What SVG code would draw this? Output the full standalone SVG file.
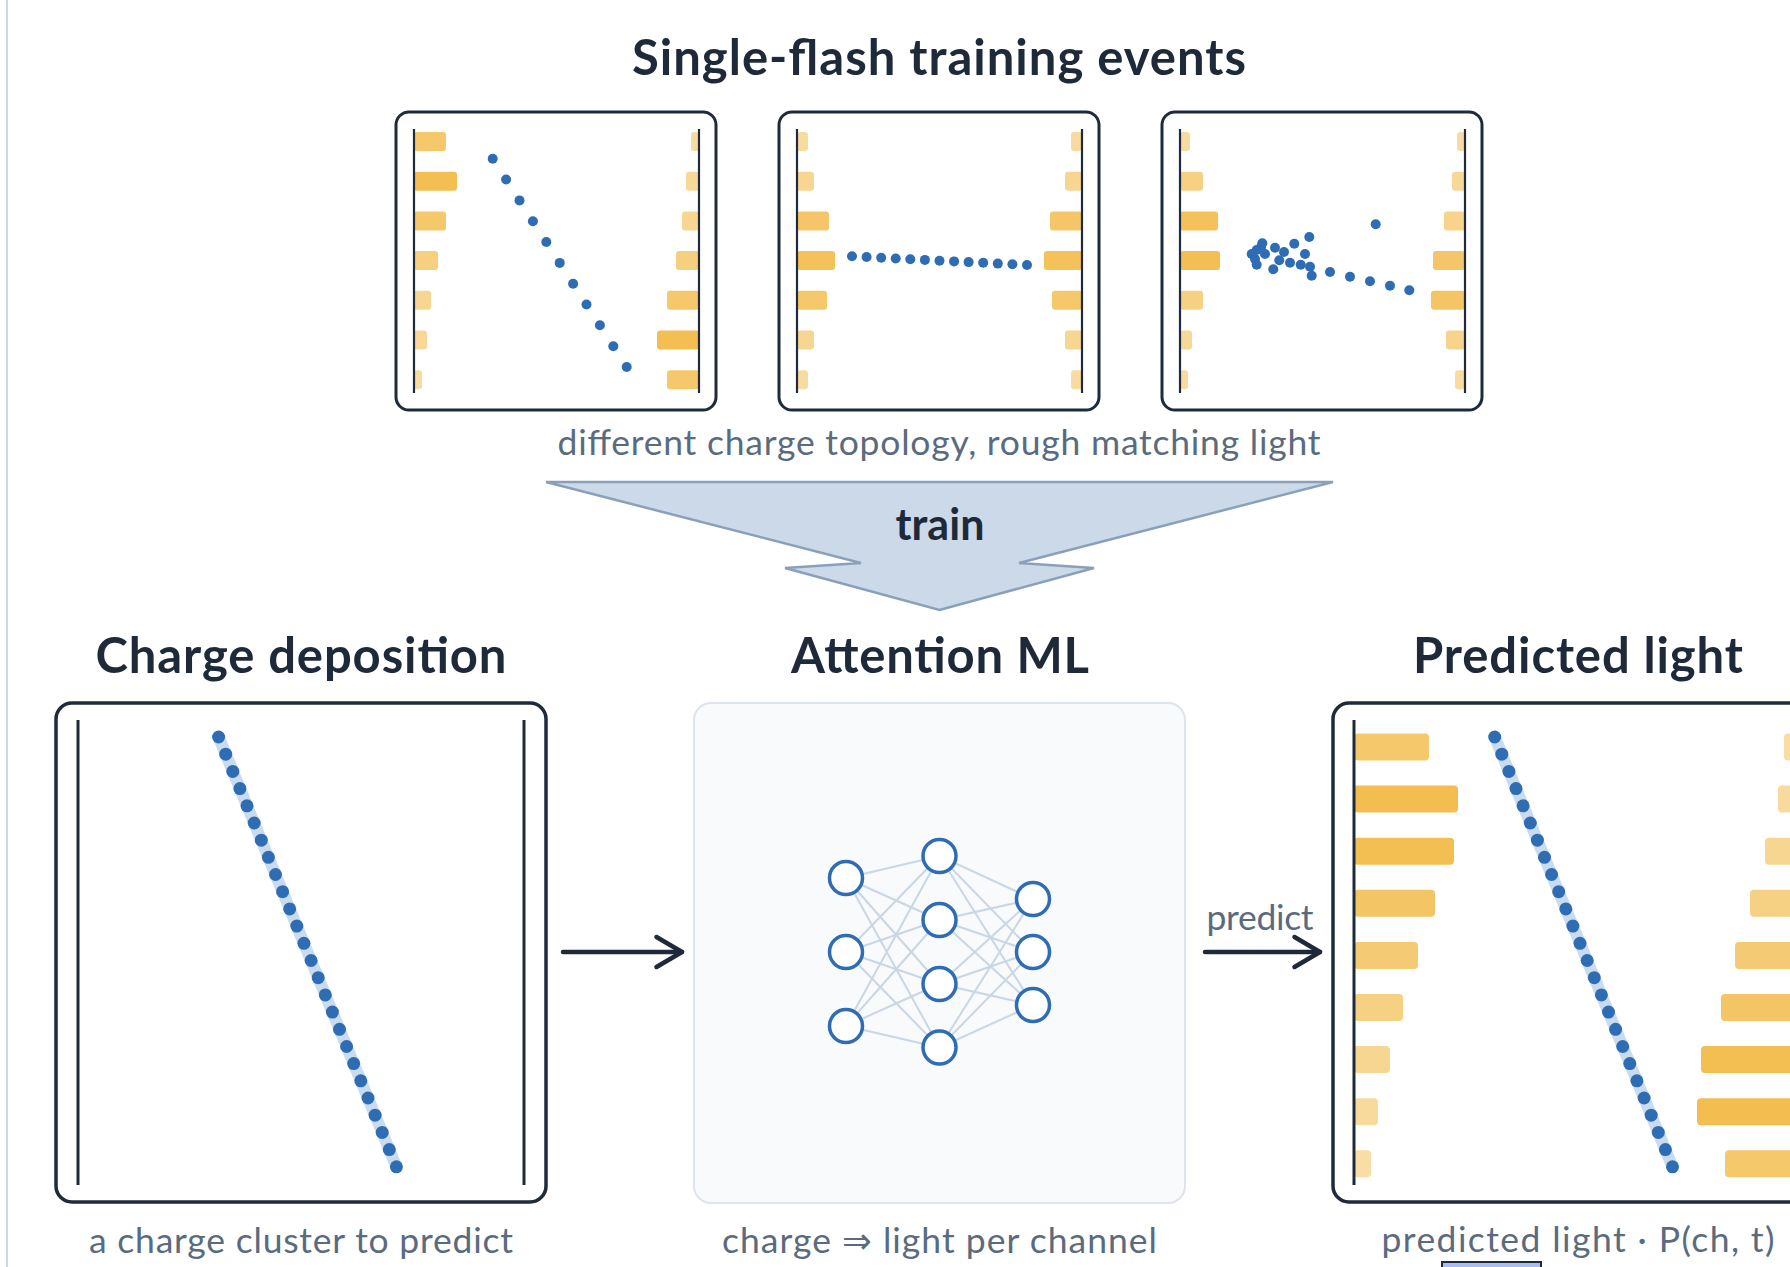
<svg xmlns="http://www.w3.org/2000/svg" xmlns:xlink="http://www.w3.org/1999/xlink" width="1790" height="1267" viewBox="0 0 1790 1267">
<style>
.title{font-family:Lato,"Liberation Sans",sans-serif;font-weight:700;font-size:49px;fill:#1e2a3a;text-anchor:middle}
.cap{font-family:Lato,"Liberation Sans","DejaVu Sans",sans-serif;font-size:35.5px;fill:#5a6b7f;text-anchor:middle}
.frame{fill:#ffffff;stroke:#1f2b3b;stroke-width:3}
.bigframe{fill:#ffffff;stroke:#1f2b3b;stroke-width:3.5}
.wall{stroke:#1f2b3b;stroke-width:2.2}
.bigwall{stroke:#1f2b3b;stroke-width:3}
.bar{fill:#f2b843}
.dot{fill:#2e6db4}
.arrow{fill:none;stroke:#1e2a3a;stroke-width:4.5;stroke-linecap:round}
.syn{stroke:#c9d6e5;stroke-width:2}
.neuron{fill:#ffffff;stroke:#2e6db4;stroke-width:3.5}
</style>
<defs>
<marker id="chev" markerUnits="userSpaceOnUse" markerWidth="40" markerHeight="40" viewBox="-32 -20 40 40" refX="0" refY="0" orient="auto">
<path d="M-25.5,-15 L0,0 L-25.5,15" fill="none" stroke="#1e2a3a" stroke-width="4.5" stroke-linecap="round" stroke-linejoin="round"/>
</marker>
<g id="track">
<line x1="218.6" y1="737" x2="396.4" y2="1166.8" stroke="#c9dbef" stroke-width="12" stroke-linecap="round"/>
<g class="dot">
<circle cx="218.6" cy="737.0" r="6.5"/><circle cx="225.7" cy="754.2" r="6.5"/><circle cx="232.8" cy="771.4" r="6.5"/><circle cx="239.9" cy="788.6" r="6.5"/><circle cx="247.0" cy="805.8" r="6.5"/><circle cx="254.2" cy="823.0" r="6.5"/><circle cx="261.3" cy="840.2" r="6.5"/><circle cx="268.4" cy="857.3" r="6.5"/><circle cx="275.5" cy="874.5" r="6.5"/><circle cx="282.6" cy="891.7" r="6.5"/><circle cx="289.7" cy="908.9" r="6.5"/><circle cx="296.8" cy="926.1" r="6.5"/><circle cx="303.9" cy="943.3" r="6.5"/><circle cx="311.1" cy="960.5" r="6.5"/><circle cx="318.2" cy="977.7" r="6.5"/><circle cx="325.3" cy="994.9" r="6.5"/><circle cx="332.4" cy="1012.1" r="6.5"/><circle cx="339.5" cy="1029.3" r="6.5"/><circle cx="346.6" cy="1046.5" r="6.5"/><circle cx="353.7" cy="1063.6" r="6.5"/><circle cx="360.8" cy="1080.8" r="6.5"/><circle cx="368.0" cy="1098.0" r="6.5"/><circle cx="375.1" cy="1115.2" r="6.5"/><circle cx="382.2" cy="1132.4" r="6.5"/><circle cx="389.3" cy="1149.6" r="6.5"/><circle cx="396.4" cy="1166.8" r="6.5"/>
</g>
</g>
</defs>

<rect x="0" y="0" width="1790" height="1267" fill="#ffffff"/>
<line x1="7" y1="0" x2="7" y2="1267" stroke="#cdd8e5" stroke-width="2"/>

<g id="training-title">
<text class="title" x="939" y="75" textLength="614">Single-flash training events</text>
</g>

<g id="event-1">
<rect class="frame" x="396" y="112" width="320" height="298" rx="13"/>
<g class="bar">
<rect x="414" y="132" width="32" height="19" rx="3" opacity="0.78"/>
<rect x="414" y="171.7" width="43" height="19" rx="3" opacity="0.92"/>
<rect x="414" y="211.4" width="32" height="19" rx="3" opacity="0.78"/>
<rect x="414" y="251.1" width="24" height="19" rx="3" opacity="0.68"/>
<rect x="414" y="290.8" width="17" height="19" rx="3" opacity="0.58"/>
<rect x="414" y="330.5" width="13" height="19" rx="3" opacity="0.55"/>
<rect x="414" y="370.2" width="8" height="19" rx="3" opacity="0.5"/>
<rect x="691" y="132" width="8" height="19" rx="3" opacity="0.5"/>
<rect x="686" y="171.7" width="13" height="19" rx="3" opacity="0.55"/>
<rect x="682" y="211.4" width="17" height="19" rx="3" opacity="0.58"/>
<rect x="676" y="251.1" width="23" height="19" rx="3" opacity="0.68"/>
<rect x="667" y="290.8" width="32" height="19" rx="3" opacity="0.78"/>
<rect x="657" y="330.5" width="42" height="19" rx="3" opacity="0.92"/>
<rect x="667" y="370.2" width="32" height="19" rx="3" opacity="0.78"/>
</g>
<line class="wall" x1="414" y1="129" x2="414" y2="393"/>
<line class="wall" x1="699" y1="129" x2="699" y2="393"/>
<g class="dot">
<circle cx="492.7" cy="158.7" r="5"/><circle cx="506.1" cy="179.5" r="5"/><circle cx="519.5" cy="200.4" r="5"/><circle cx="532.9" cy="221.2" r="5"/><circle cx="546.3" cy="242.0" r="5"/><circle cx="559.7" cy="262.9" r="5"/><circle cx="573.1" cy="283.7" r="5"/><circle cx="586.5" cy="304.5" r="5"/><circle cx="599.9" cy="325.3" r="5"/><circle cx="613.3" cy="346.2" r="5"/><circle cx="626.7" cy="367.0" r="5"/>
</g>
</g>

<g id="event-2">
<rect class="frame" x="779" y="112" width="320" height="298" rx="13"/>
<g class="bar">
<rect x="797" y="132" width="11" height="19" rx="3" opacity="0.5"/>
<rect x="797" y="171.7" width="17" height="19" rx="3" opacity="0.58"/>
<rect x="797" y="211.4" width="32" height="19" rx="3" opacity="0.8"/>
<rect x="797" y="251.1" width="38" height="19" rx="3" opacity="0.88"/>
<rect x="797" y="290.8" width="30" height="19" rx="3" opacity="0.78"/>
<rect x="797" y="330.5" width="17" height="19" rx="3" opacity="0.58"/>
<rect x="797" y="370.2" width="11" height="19" rx="3" opacity="0.5"/>
<rect x="1071" y="132" width="11" height="19" rx="3" opacity="0.5"/>
<rect x="1065" y="171.7" width="17" height="19" rx="3" opacity="0.58"/>
<rect x="1050" y="211.4" width="32" height="19" rx="3" opacity="0.8"/>
<rect x="1044" y="251.1" width="38" height="19" rx="3" opacity="0.88"/>
<rect x="1052" y="290.8" width="30" height="19" rx="3" opacity="0.78"/>
<rect x="1065" y="330.5" width="17" height="19" rx="3" opacity="0.58"/>
<rect x="1071" y="370.2" width="11" height="19" rx="3" opacity="0.5"/>
</g>
<line class="wall" x1="797" y1="129" x2="797" y2="393"/>
<line class="wall" x1="1082" y1="129" x2="1082" y2="393"/>
<g class="dot">
<circle cx="852.0" cy="256.3" r="5"/><circle cx="866.6" cy="257.0" r="5"/><circle cx="881.2" cy="257.8" r="5"/><circle cx="895.7" cy="258.5" r="5"/><circle cx="910.3" cy="259.2" r="5"/><circle cx="924.9" cy="259.9" r="5"/><circle cx="939.5" cy="260.7" r="5"/><circle cx="954.1" cy="261.4" r="5"/><circle cx="968.6" cy="262.1" r="5"/><circle cx="983.2" cy="262.8" r="5"/><circle cx="997.8" cy="263.6" r="5"/><circle cx="1012.4" cy="264.3" r="5"/><circle cx="1027.0" cy="265.0" r="5"/>
</g>
</g>

<g id="event-3">
<rect class="frame" x="1162" y="112" width="320" height="298" rx="13"/>
<g class="bar">
<rect x="1180" y="132" width="10" height="19" rx="3" opacity="0.5"/>
<rect x="1180" y="171.7" width="23" height="19" rx="3" opacity="0.66"/>
<rect x="1180" y="211.4" width="38" height="19" rx="3" opacity="0.88"/>
<rect x="1180" y="251.1" width="40" height="19" rx="3" opacity="0.9"/>
<rect x="1180" y="290.8" width="23" height="19" rx="3" opacity="0.66"/>
<rect x="1180" y="330.5" width="12" height="19" rx="3" opacity="0.55"/>
<rect x="1180" y="370.2" width="8" height="19" rx="3" opacity="0.5"/>
<rect x="1457" y="132" width="8" height="19" rx="3" opacity="0.5"/>
<rect x="1452" y="171.7" width="13" height="19" rx="3" opacity="0.55"/>
<rect x="1444" y="211.4" width="21" height="19" rx="3" opacity="0.62"/>
<rect x="1433" y="251.1" width="32" height="19" rx="3" opacity="0.8"/>
<rect x="1431" y="290.8" width="34" height="19" rx="3" opacity="0.82"/>
<rect x="1446" y="330.5" width="19" height="19" rx="3" opacity="0.62"/>
<rect x="1455" y="370.2" width="10" height="19" rx="3" opacity="0.5"/>
</g>
<line class="wall" x1="1180" y1="129" x2="1180" y2="393"/>
<line class="wall" x1="1465" y1="129" x2="1465" y2="393"/>
<g class="dot">
<circle cx="1375.7" cy="224.3" r="5"/><circle cx="1309.3" cy="237" r="5"/><circle cx="1262.3" cy="243.3" r="5"/><circle cx="1275" cy="247.7" r="5"/><circle cx="1294.3" cy="243.7" r="5"/><circle cx="1284" cy="252" r="5"/><circle cx="1305" cy="254" r="5"/><circle cx="1251.7" cy="254" r="5"/><circle cx="1265" cy="254" r="5"/><circle cx="1256.7" cy="250" r="5"/><circle cx="1279.3" cy="260.3" r="5"/><circle cx="1290" cy="262.7" r="5"/><circle cx="1300.7" cy="264.7" r="5"/><circle cx="1310" cy="266.7" r="5"/><circle cx="1256.7" cy="264.7" r="5"/><circle cx="1273.3" cy="269.3" r="5"/><circle cx="1311.7" cy="275.7" r="5"/><circle cx="1330" cy="272" r="5"/><circle cx="1350" cy="276.7" r="5"/><circle cx="1370" cy="281.3" r="5"/><circle cx="1390" cy="285.7" r="5"/><circle cx="1409.3" cy="290.3" r="5"/><circle cx="1261" cy="247.3" r="5"/><circle cx="1255" cy="259" r="5"/>
</g>
</g>

<g id="training-caption">
<text class="cap" x="939" y="455" textLength="763">different charge topology, rough matching light</text>
</g>

<g id="connectors">
<g id="train-arrow">
<polygon points="546,482 1333,482 1019,563 1094,568 939.5,610 785,568 861,563" fill="#cbd9e9" stroke="#8aa0ba" stroke-width="2.5" stroke-linejoin="miter"/>
<text x="940" y="540" font-family="Lato, 'Liberation Sans', sans-serif" font-weight="700" font-size="43" fill="#1e2a3a" text-anchor="middle" textLength="89">train</text>
</g>
<path class="arrow" d="M563,952 L682,952" marker-end="url(#chev)"/>
<path class="arrow" d="M1205,952 L1320,952" marker-end="url(#chev)"/>
<text class="cap" x="1260" y="930" textLength="107">predict</text>
</g>

<g id="charge-deposition">
<text class="title" x="301" y="673" textLength="411">Charge deposition</text>
<rect class="bigframe" x="56" y="703" width="490" height="499" rx="16"/>
<line class="bigwall" x1="78" y1="720" x2="78" y2="1185"/>
<line class="bigwall" x1="524" y1="720" x2="524" y2="1185"/>
<use xlink:href="#track" href="#track"/>
<text class="cap" x="301" y="1253" textLength="424">a charge cluster to predict</text>
</g>

<g id="attention-ml">
<text class="title" x="940" y="673" textLength="298">Attention ML</text>
<rect x="694" y="703" width="491" height="500" rx="17" fill="#f8fafc" stroke="#dde4ec" stroke-width="2"/>
<g class="syn">
<line x1="846" y1="878" x2="939.5" y2="856"/><line x1="846" y1="878" x2="939.5" y2="920"/><line x1="846" y1="878" x2="939.5" y2="984"/><line x1="846" y1="878" x2="939.5" y2="1047.5"/>
<line x1="846" y1="952" x2="939.5" y2="856"/><line x1="846" y1="952" x2="939.5" y2="920"/><line x1="846" y1="952" x2="939.5" y2="984"/><line x1="846" y1="952" x2="939.5" y2="1047.5"/>
<line x1="846" y1="1026" x2="939.5" y2="856"/><line x1="846" y1="1026" x2="939.5" y2="920"/><line x1="846" y1="1026" x2="939.5" y2="984"/><line x1="846" y1="1026" x2="939.5" y2="1047.5"/>
<line x1="939.5" y1="856" x2="1033" y2="899"/><line x1="939.5" y1="856" x2="1033" y2="952"/><line x1="939.5" y1="856" x2="1033" y2="1005"/>
<line x1="939.5" y1="920" x2="1033" y2="899"/><line x1="939.5" y1="920" x2="1033" y2="952"/><line x1="939.5" y1="920" x2="1033" y2="1005"/>
<line x1="939.5" y1="984" x2="1033" y2="899"/><line x1="939.5" y1="984" x2="1033" y2="952"/><line x1="939.5" y1="984" x2="1033" y2="1005"/>
<line x1="939.5" y1="1047.5" x2="1033" y2="899"/><line x1="939.5" y1="1047.5" x2="1033" y2="952"/><line x1="939.5" y1="1047.5" x2="1033" y2="1005"/>
</g>
<g class="neuron">
<circle cx="846" cy="878" r="16.5"/><circle cx="846" cy="952" r="16.5"/><circle cx="846" cy="1026" r="16.5"/>
<circle cx="939.5" cy="856" r="16.5"/><circle cx="939.5" cy="920" r="16.5"/><circle cx="939.5" cy="984" r="16.5"/><circle cx="939.5" cy="1047.5" r="16.5"/>
<circle cx="1033" cy="899" r="16.5"/><circle cx="1033" cy="952" r="16.5"/><circle cx="1033" cy="1005" r="16.5"/>
</g>
<text class="cap" x="939.5" y="1253" textLength="435">charge ⇒ light per channel</text>
</g>

<g id="predicted-light">
<text class="title" x="1578" y="673" textLength="330">Predicted light</text>
<rect class="bigframe" x="1333" y="703" width="490" height="499" rx="16"/>
<g class="bar">
<rect x="1354" y="733.5" width="75" height="27" rx="4" opacity="0.78"/>
<rect x="1354" y="785.6" width="104" height="27" rx="4" opacity="0.93"/>
<rect x="1354" y="837.7" width="100" height="27" rx="4" opacity="0.92"/>
<rect x="1354" y="889.8" width="81" height="27" rx="4" opacity="0.82"/>
<rect x="1354" y="941.9" width="64" height="27" rx="4" opacity="0.74"/>
<rect x="1354" y="994.0" width="49" height="27" rx="4" opacity="0.66"/>
<rect x="1354" y="1046.1" width="36" height="27" rx="4" opacity="0.58"/>
<rect x="1354" y="1098.2" width="24" height="27" rx="4" opacity="0.52"/>
<rect x="1354" y="1150.3" width="17" height="27" rx="4" opacity="0.48"/>
<rect x="1784" y="733.5" width="18" height="27" rx="4" opacity="0.48"/>
<rect x="1778" y="785.6" width="24" height="27" rx="4" opacity="0.52"/>
<rect x="1765" y="837.7" width="37" height="27" rx="4" opacity="0.58"/>
<rect x="1750" y="889.8" width="52" height="27" rx="4" opacity="0.66"/>
<rect x="1735" y="941.9" width="67" height="27" rx="4" opacity="0.74"/>
<rect x="1721" y="994.0" width="81" height="27" rx="4" opacity="0.82"/>
<rect x="1701" y="1046.1" width="101" height="27" rx="4" opacity="0.92"/>
<rect x="1697" y="1098.2" width="105" height="27" rx="4" opacity="0.93"/>
<rect x="1725" y="1150.3" width="77" height="27" rx="4" opacity="0.78"/>
</g>
<line class="bigwall" x1="1354" y1="720" x2="1354" y2="1185"/>
<line class="bigwall" x1="1802" y1="720" x2="1802" y2="1185"/>
<use xlink:href="#track" href="#track" transform="translate(1276.1,0)"/>
<text class="cap" x="1578" y="1252" textLength="393">predicted light · P(ch, t)</text>
<rect x="1442" y="1262" width="99" height="20" fill="#adbcf0" stroke="#1e2a3a" stroke-width="2"/>
</g>
</svg>
